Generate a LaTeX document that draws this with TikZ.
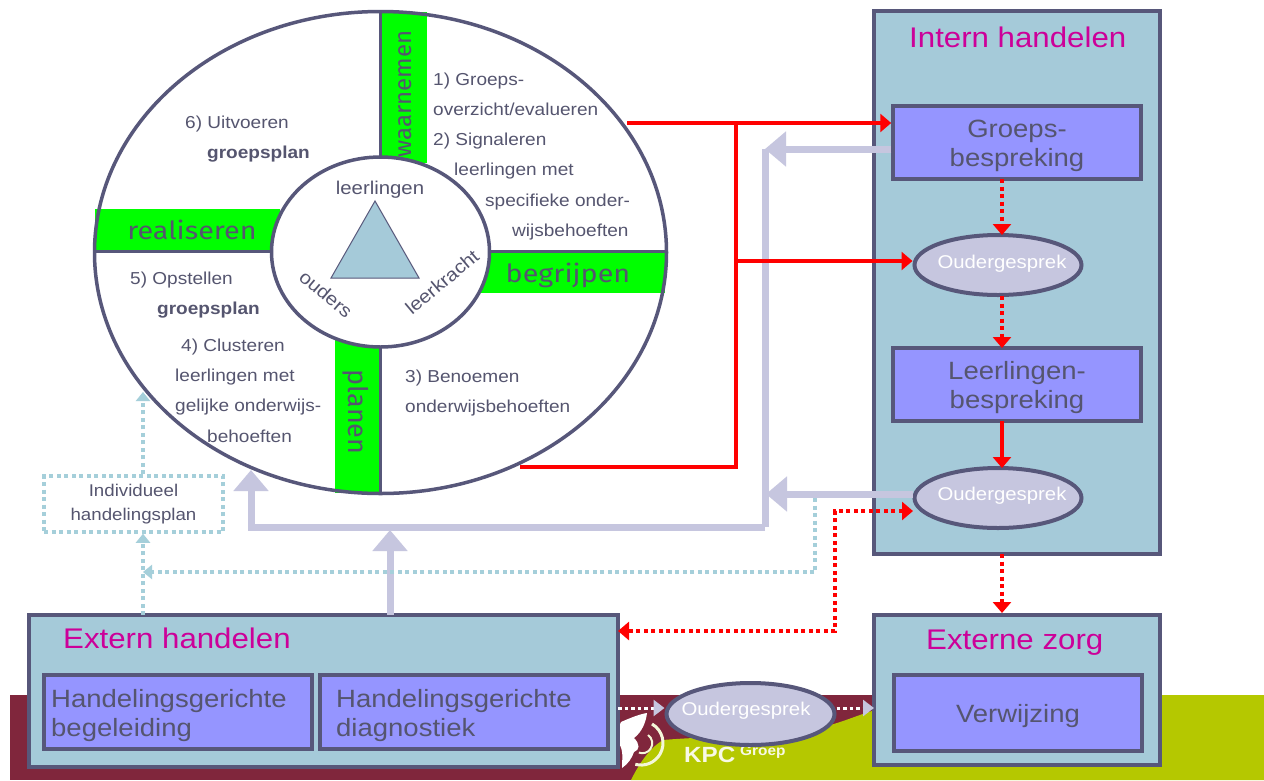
\documentclass[tikz,border=0pt]{standalone}
\usepackage{fontspec}
\setmainfont[FakeStretch=1.1]{Liberation Sans}
\newfontfamily\handfont[FakeStretch=1.15]{Fira Sans}
\newfontfamily\handrot{Fira Sans}
\usetikzlibrary{arrows.meta,shapes.geometric}
\definecolor{panelblue}{HTML}{A5CAD9}
\definecolor{boxblue}{HTML}{9595FF}
\definecolor{edgeslate}{HTML}{57577A}
\definecolor{lav}{HTML}{C6C6DF}
\definecolor{maroon}{HTML}{80263C}
\definecolor{lime}{HTML}{B5C800}
\definecolor{magentat}{HTML}{CC0099}
\definecolor{inktext}{HTML}{55556F}
\definecolor{greenbar}{HTML}{00FF00}
\definecolor{dotblue}{HTML}{A5CFDA}
\tikzset{
 x=1pt,y=-1pt,
 panel/.style={draw=edgeslate,fill=panelblue,line width=3.5pt},
 subbox/.style={draw=edgeslate,fill=boxblue,line width=3.5pt},
 parent/.style={draw=edgeslate,fill=lav,line width=4pt,ellipse,inner sep=0pt,minimum width=167pt,minimum height=60pt},
 parenttxt/.style={text=white,font=\fontsize{18.5}{21}\selectfont,inner sep=0pt},
 ptitle/.style={text=magentat,font=\fontsize{28.4}{32}\selectfont,anchor=base west,inner sep=0pt},
 boxtxt/.style={text=inktext,font=\fontsize{25}{29}\selectfont,inner sep=0pt,anchor=base west},
 boxmid/.style={text=inktext,font=\fontsize{25}{29}\selectfont,inner sep=0pt,align=center},
 steptxt/.style={text=inktext,font=\fontsize{17.3}{20}\selectfont,inner sep=0pt,anchor=base west},
 steptxtb/.style={steptxt,font=\bfseries\fontsize{17.3}{20}\selectfont},
 wheeltxt/.style={text=inktext,font=\fontsize{18.5}{21}\selectfont,inner sep=0pt},
 hand/.style={text=inktext,font=\handfont\fontsize{25}{29}\selectfont,inner sep=0pt},
 handr/.style={text=inktext,inner sep=0pt},
 redline/.style={draw=red,line width=3.5pt},
 redarrow/.style={redline,-{Triangle[length=11pt,width=18pt]}},
 reddot/.style={draw=red,line width=3.5pt,dash pattern=on 4pt off 3.5pt,-{Triangle[length=11pt,width=18pt,fill=red]}},
 lavline/.style={draw=lav,line width=7pt},
 lavarrow/.style={lavline,-{Triangle[length=21pt,width=34pt]}},
 bluedot/.style={draw=dotblue,line width=3.5pt,dash pattern=on 4pt off 3.5pt},
 bluearrow/.style={bluedot,-{Triangle[length=9pt,width=14pt,fill=dotblue]}},
 whitearrow/.style={draw=white,line width=3pt,dash pattern=on 3.5pt off 3pt,-{Triangle[length=11pt,width=16pt,color=lav,fill=lav]}},
}
\begin{document}
\begin{tikzpicture}
\useasboundingbox (0,0) rectangle (1264,780);
% background band
\fill[white] (0,0) rectangle (1264,780);
\fill[maroon] (10,695) rectangle (1264,780);
\fill[lime] (631,780) .. controls (640,762) and (650,748) .. (663,740) .. controls (720,735) and (790,738) .. (837,723) .. controls (860,716) and (890,700) .. (960,695) -- (1264,695) -- (1264,780) -- cycle;
% logo
\draw[white!85!lime,line width=3pt] (652,724) arc (60:-105:22pt);
\draw[white!85!lime,line width=2pt] (648,735) arc (55:-110:10pt);
\fill[white] (621,722) .. controls (630,718) and (640,714) .. (647,713) .. controls (646,722) and (642,732) .. (634,738) .. controls (640,744) and (640,750) .. (634,752) .. controls (632,758) and (628,764) .. (622,768) .. controls (622,758) and (624,750) .. (618,742) .. controls (616,735) and (618,728) .. (621,722) -- cycle;
\node[text=white!90!lime,font=\bfseries\fontsize{22}{24}\selectfont,inner sep=0pt,anchor=base west] (kpc) at (684,762) {KPC};
\node[text=white!90!lime,font=\bfseries\fontsize{14}{16}\selectfont,inner sep=0pt,anchor=base west] (groep) at (740,755) {Groep};
% wheel
\fill[white] (380.5,252.5) ellipse (286pt and 241pt);
\fill[greenbar] (380,12) rectangle (427,163);
\fill[greenbar] (95,209) rectangle (280,251);
\fill[greenbar] (475,251) rectangle (665,293);
\fill[greenbar] (335,340) rectangle (380,493);
\draw[edgeslate,line width=3pt] (380,11) -- (380,160) (94,251) -- (275,251) (488,251) -- (667,251) (380,340) -- (380,494);
\draw[edgeslate,line width=3.5pt] (380.5,252.5) ellipse (286pt and 241pt);
\draw[edgeslate,line width=3.5pt,fill=white] (380.5,252) ellipse (109pt and 95pt);
\draw[edgeslate,line width=1pt,fill=panelblue] (375,201) -- (419,278) -- (331,278) -- cycle;
\node[wheeltxt] (tl) at (380,190) {leerlingen};
\node[wheeltxt,rotate=-40] (to) at (326,294) {ouders};
\node[wheeltxt,rotate=40] (tk) at (442,282) {leerkracht};
\node[handr,rotate=90,font=\handrot\fontsize{24}{28}\selectfont] (w) at (405,94) {waarnemen};
\node[hand] (r) at (192,230) {realiseren};
\node[hand] (b) at (568,275) {begrijpen};
\node[handr,rotate=-90,font=\handrot\fontsize{27}{30}\selectfont] (p) at (356,412) {planen};
% step text
\node[steptxt] (s1) at (433,85) {1) Groeps-};
\node[steptxt] (s2) at (433,115) {overzicht/evalueren};
\node[steptxt] (s3) at (433,145) {2) Signaleren};
\node[steptxt] (s4) at (454,175) {leerlingen met};
\node[steptxt] (s5) at (485,206) {specifieke onder-};
\node[steptxt] (s6) at (512,236) {wijsbehoeften};
\node[steptxt] (s7) at (185,128) {6) Uitvoeren};
\node[steptxtb] (s8) at (207,158) {groepsplan};
\node[steptxt] (s9) at (130,284) {5) Opstellen};
\node[steptxtb] (s10) at (157,314) {groepsplan};
\node[steptxt] (s11) at (181,351) {4) Clusteren};
\node[steptxt] (s12) at (175,381) {leerlingen met};
\node[steptxt] (s13) at (175,411) {gelijke onderwijs-};
\node[steptxt] (s14) at (207,442) {behoeften};
\node[steptxt] (s15) at (405,382) {3) Benoemen};
\node[steptxt] (s16) at (405,412) {onderwijsbehoeften};
% panels
\draw[panel] (874,11) rectangle (1160,554);
\draw[panel] (874,615) rectangle (1160,765);
\draw[panel] (29,615) rectangle (618,767);
\node[ptitle] (t1) at (909,47) {Intern handelen};
\node[ptitle] (t2) at (926,649) {Externe zorg};
\node[ptitle] (t3) at (63,648) {Extern handelen};
\node[subbox,minimum width=248pt,minimum height=73pt,inner sep=0pt] (gb) at (1017,142.5) {};
\node[boxmid] (gbt) at (1017,146) {Groeps-\\bespreking};
\node[subbox,minimum width=248pt,minimum height=73pt,inner sep=0pt] (lb) at (1017,384.5) {};
\node[boxmid] (lbt) at (1017,388) {Leerlingen-\\bespreking};
\node[subbox,minimum width=248pt,minimum height=76pt,inner sep=0pt] (vw) at (1018,713) {};
\node[boxmid] (vwt) at (1018,716) {Verwijzing};
\node[subbox,minimum width=268pt,minimum height=74pt,inner sep=0pt] (hb) at (178,712) {};
\node[subbox,minimum width=288pt,minimum height=74pt,inner sep=0pt] (hd) at (464,712) {};
\node[boxtxt] (hb1) at (51,707) {Handelingsgerichte};
\node[boxtxt] (hb2) at (51,736) {begeleiding};
\node[boxtxt] (hd1) at (336,707) {Handelingsgerichte};
\node[boxtxt] (hd2) at (336,736) {diagnostiek};
\node[parent] (o1) at (998,265) {};
\node[parenttxt] (o1t) at (1002,264) {Oudergesprek};
\node[parent] (o2) at (998,498) {};
\node[parenttxt] (o2t) at (1002,496) {Oudergesprek};
\node[parent,minimum height=62pt,minimum width=168pt] (o3) at (750.5,714) {};
\node[parenttxt] (o3t) at (746,711) {Oudergesprek};
% plan box
\node[bluedot,minimum width=179pt,minimum height=56pt,inner sep=0pt,align=center,text=inktext,font=\fontsize{17}{24}\selectfont] (ihp) at (133.5,504) {Individueel\\handelingsplan};
% anchors
\coordinate (ra) at (627,123);
\coordinate (rb) at (736,123);
\coordinate (rc) at (736,467);
\coordinate (rd) at (520,467);
\coordinate (re) at (736,261);
\coordinate (la) at (765,149);
\coordinate (lb1) at (765,527);
\coordinate (lc) at (251,527);
\coordinate (ld) at (251,470);
\coordinate (le) at (390,530);
\coordinate (lf) at (390,615);
\coordinate (lg) at (766,494);
\coordinate (ba) at (815,498);
\coordinate (bb) at (815,572);
\coordinate (bc) at (143,572);
\coordinate (bd) at (143,615);
\coordinate (be) at (143,392);
\coordinate (da) at (835,511);
\coordinate (db) at (835,631);
\coordinate (dc) at (618,631);
\coordinate (de) at (913,511);
\coordinate (wl) at (618,708);
\coordinate (wr) at (874,708);
\coordinate (ga) at (1002,179);
\coordinate (gc) at (1002,235);
\coordinate (oa) at (1002,296);
\coordinate (ob) at (1002,348);
\coordinate (oc) at (1002,421);
\coordinate (od) at (1002,468);
\coordinate (oe) at (1002,554);
\coordinate (of) at (1002,613);
% lavender connectors
\draw[lavarrow] (gb.west|-la) -- (la);
\draw[lavline] (la) -- (lb1);
\draw[lavarrow] (lb1) -- (lc) -- (ld);
\draw[lavarrow] (lf) -- (le);
\draw[lavarrow] (o2.west|-lg) -- (lg);
% red connectors
\draw[redarrow] (ra) -- (gb.west|-ra);
\draw[redline] (rb) -- (rc) -- (rd);
\draw[redarrow] (re) -- (o1.west|-re);
\draw[reddot] (ga) -- (gc);
\draw[reddot] (oa) -- (ob);
\draw[redarrow] (oc) -- (od);
\draw[reddot] (oe) -- (of);
\draw[reddot,{Triangle[length=11pt,width=18pt,fill=red]}-{Triangle[length=11pt,width=18pt,fill=red]}] (de) -- (da) -- (db) -- (dc);
% blue dotted
\draw[bluearrow] (ba) -- (bb) -- (bc);
\draw[bluearrow] (bd) -- (ihp.south-|bd);
\draw[bluearrow] (ihp.north-|bd) -- (be);
% white dotted
\draw[whitearrow] (wl) -- (o3.west|-wl);
\draw[whitearrow] (o3.east|-wl) -- (wr);
\end{tikzpicture}
\end{document}
